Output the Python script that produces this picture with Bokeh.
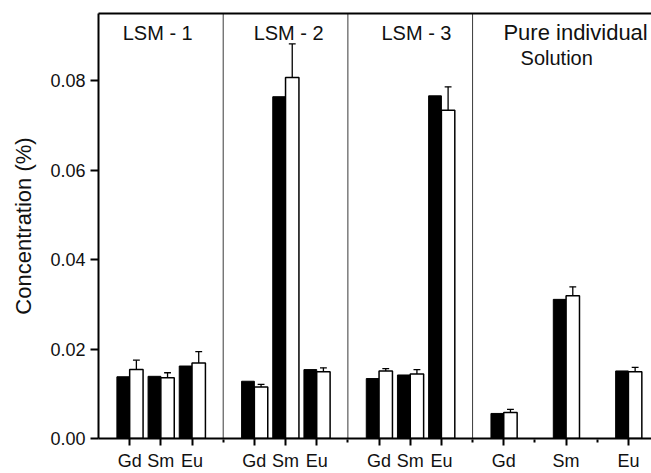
from bokeh.plotting import figure
from bokeh.models import Range1d, FixedTicker, NumeralTickFormatter, LinearAxis
from bokeh.core.properties import value
from bokeh.embed import file_html
from bokeh.resources import INLINE

# Elements measured in each sample group
elements = ["Gd", "Sm", "Eu"]
groups = ["LSM - 1", "LSM - 2", "LSM - 3"]
pure_title = "Pure individual"
pure_subtitle = "Solution"

# Concentration (%) per group, ordered Gd, Sm, Eu
solid_vals = [
    [0.0138, 0.0139, 0.0162],   # LSM - 1
    [0.0128, 0.0764, 0.0154],   # LSM - 2
    [0.0134, 0.0142, 0.0766],   # LSM - 3
    [0.0056, 0.0311, 0.0151],   # Pure individual solution
]
open_vals = [
    [0.0154, 0.0136, 0.0169],
    [0.0115, 0.0807, 0.0149],
    [0.0151, 0.0144, 0.0734],
    [0.0058, 0.0319, 0.0149],
]
open_err = [
    [0.0021, 0.0011, 0.0025],
    [0.0006, 0.0075, 0.0009],
    [0.0005, 0.0010, 0.0052],
    [0.0007, 0.0020, 0.0010],
]
y_ticks = [0.00, 0.02, 0.04, 0.06, 0.08]

FONT = "Liberation Sans"
INK = "#111111"

# Layout on the categorical axis: LSM groups use a step of 1, the pure
# solution group is spread out with a step of 2; groups are separated by one slot.
n_groups = len(solid_vals)
positions = []
separators = []
cursor = 1
for gi in range(n_groups):
    step = 2 if gi == n_groups - 1 else 1
    pos = [cursor + step * k for k in range(len(elements))]
    positions.append(pos)
    cursor = pos[-1] + 2
    if gi < n_groups - 1:
        separators.append(pos[-1] + 1)

xs, solid, opn, err = [], [], [], []
for gi in range(n_groups):
    xs += positions[gi]
    solid += solid_vals[gi]
    opn += open_vals[gi]
    err += open_err[gi]

x_end = 17.74
y_end = 0.095

p = figure(width=651, height=473, output_backend="svg", toolbar_location=None,
           x_range=Range1d(0, x_end), y_range=Range1d(0, y_end),
           min_border_left=98, min_border_right=0, min_border_top=13,
           min_border_bottom=35)
p.outline_line_color = None
p.xgrid.visible = False
p.ygrid.visible = False
p.background_fill_color = "white"
p.border_fill_color = "white"

# group separators
p.segment(x0=separators, y0=[0] * len(separators), x1=separators,
          y1=[y_end] * len(separators), line_color="#3a3a3a", line_width=1)

# bars: solid (black) to the left of each tick, open (white) to the right
bw_solid = 0.41
bw_open = 0.43
p.vbar(x=[x - bw_solid / 2 for x in xs], width=bw_solid, top=solid, bottom=0,
       fill_color="black", line_color="black", line_width=1)
open_x = [x + bw_open / 2 for x in xs]
p.vbar(x=open_x, width=bw_open, top=opn, bottom=0,
       fill_color="white", line_color="black", line_width=1.5)

# upper error bars on the open bars
tops = [v + e for v, e in zip(opn, err)]
cap = 0.11
p.segment(x0=open_x, y0=opn, x1=open_x, y1=tops, line_color="black", line_width=1.3)
p.segment(x0=[x - cap for x in open_x], y0=tops, x1=[x + cap for x in open_x],
          y1=tops, line_color="black", line_width=1.3)

# x axis: element name under every tick, short minor ticks at the gaps
major = []
overrides = {}
for pos in positions:
    major += pos
    for x, el in zip(pos, elements):
        overrides[x] = el
minor = separators + [positions[-1][0] + 1, positions[-1][1] + 1]

xa = p.xaxis[0]
xa.ticker = FixedTicker(ticks=major, minor_ticks=minor)
xa.major_label_overrides = overrides
xa.axis_line_width = 2
xa.axis_line_color = "black"
xa.major_tick_line_width = 2
xa.major_tick_out = 7
xa.major_tick_in = 0
xa.minor_tick_line_width = 2
xa.minor_tick_out = 4
xa.minor_tick_in = -1
xa.major_label_standoff = 5
xa.major_label_text_font = FONT
xa.major_label_text_font_size = "18px"
xa.major_label_text_color = INK

ya = p.yaxis[0]
ya.ticker = FixedTicker(ticks=y_ticks)
ya.formatter = NumeralTickFormatter(format="0.00")
ya.axis_line_width = 2
ya.axis_line_color = "black"
ya.major_tick_line_width = 2
ya.major_tick_out = 8
ya.major_tick_in = 0
ya.minor_tick_line_color = None
ya.major_label_standoff = 5
ya.major_label_text_font = FONT
ya.major_label_text_font_size = "18px"
ya.major_label_text_color = INK
ya.axis_label = "Concentration (%)"
ya.axis_label_text_font = FONT
ya.axis_label_text_font_size = "22px"
ya.axis_label_text_font_style = "normal"
ya.axis_label_text_color = INK
ya.axis_label_standoff = 11

# top frame line
top = LinearAxis(ticker=FixedTicker(ticks=[]), axis_line_width=2, axis_line_color="black",
                 major_tick_line_color=None, minor_tick_line_color=None,
                 major_label_text_font_size="0px")
p.add_layout(top, "above")

# group titles
centers = [sum(pos) / len(pos) for pos in positions]
title_x = [centers[0] - 0.1, centers[1] + 0.1, centers[2] + 0.2]
p.text(x=title_x, y=[0.0907] * len(groups), text=groups, text_font=value(FONT),
       text_font_size="20px", text_align="center", text_baseline="alphabetic",
       text_color=INK)
p.text(x=[positions[-1][0] - 0.01], y=[0.0907], text=[pure_title], text_font=value(FONT),
       text_font_size="22px", text_align="left", text_baseline="alphabetic",
       text_color=INK)
p.text(x=[positions[-1][0] + 0.54], y=[0.0851], text=[pure_subtitle], text_font=value(FONT),
       text_font_size="20px", text_align="left", text_baseline="alphabetic",
       text_color=INK)

open("out.html", "w").write(file_html(p, INLINE))
